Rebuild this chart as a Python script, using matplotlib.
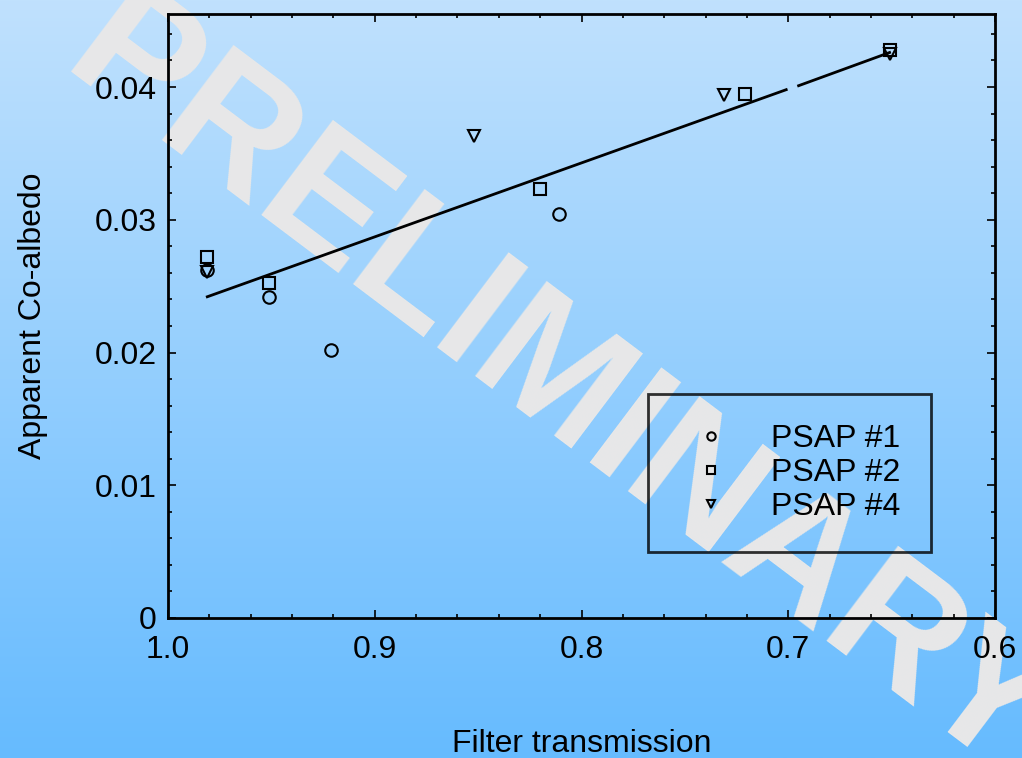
import numpy as np
import matplotlib
matplotlib.use("Agg")
import matplotlib.pyplot as plt
from matplotlib.colors import LinearSegmentedColormap
from matplotlib.ticker import MultipleLocator

plt.rcParams['font.family'] = ['Liberation Sans', 'DejaVu Sans']

# PSAP measurements: filter transmission vs apparent co-albedo
psap1_x = [0.981, 0.951, 0.921, 0.811]
psap1_y = [0.0262, 0.0242, 0.0202, 0.0304]

psap2_x = [0.981, 0.951, 0.820, 0.721, 0.651]
psap2_y = [0.0272, 0.0252, 0.0323, 0.0395, 0.0428]

psap4_x = [0.981, 0.852, 0.731, 0.651]
psap4_y = [0.0261, 0.0363, 0.0394, 0.0425]

# linear fit line (drawn in two pieces, with a small break near 0.70)
fit_x = [0.981, 0.701, 0.695, 0.651]
fit_y = [0.0242, 0.0398, 0.0401, 0.0426]

fig = plt.figure(figsize=(10.22, 7.58), dpi=100)

# background gradient
bg = fig.add_axes([0, 0, 1, 1], zorder=-10)
cmap = LinearSegmentedColormap.from_list("bg", ["#c0e1fd", "#66bbff"])
grad = np.linspace(0, 1, 256).reshape(-1, 1)
bg.imshow(grad, aspect="auto", cmap=cmap, extent=[0, 1, 0, 1], origin="upper")
bg.set_axis_off()

# watermark
fig.text(0.545, 0.485, "PRELIMINARY", fontsize=124, fontweight="bold",
         color="#e8e8e8", rotation=-37, ha="center", va="center",
         zorder=-5)

ax = fig.add_axes([0.1644, 0.1847, 0.8092, 0.7968])
ax.patch.set_alpha(0)

ax.plot(fit_x[:2], fit_y[:2], color="black", lw=2.0, zorder=3)
ax.plot(fit_x[2:], fit_y[2:], color="black", lw=2.0, zorder=3)

ms = 9
ax.plot(psap1_x, psap1_y, "o", mfc="none", mec="black", mew=1.5, ms=ms,
        label="PSAP #1", zorder=4)
ax.plot(psap2_x, psap2_y, "s", mfc="none", mec="black", mew=1.5, ms=ms - 0.5,
        label="PSAP #2", zorder=4)
ax.plot(psap4_x, psap4_y, "v", mfc="none", mec="black", mew=1.5, ms=ms,
        label="PSAP #4", zorder=4)

ax.set_xlim(1.0, 0.6)
ax.set_ylim(0, 0.0455)

ax.xaxis.set_minor_locator(MultipleLocator(0.02))
ax.yaxis.set_minor_locator(MultipleLocator(0.002))
ax.set_xticks([1.0, 0.9, 0.8, 0.7, 0.6])
ax.set_xticklabels(["1.0", "0.9", "0.8", "0.7", "0.6"])
ax.set_yticks([0, 0.01, 0.02, 0.03, 0.04])
ax.set_yticklabels(["0", "0.01", "0.02", "0.03", "0.04"])

ax.tick_params(which="both", direction="in", top=True, right=True,
               labelsize=23, width=1.2)
ax.tick_params(which="major", length=6)
ax.tick_params(axis="x", which="major", pad=12)
ax.tick_params(axis="y", which="major", pad=8)
ax.tick_params(which="minor", length=3)
for s in ax.spines.values():
    s.set_linewidth(2)

ax.set_xlabel("Filter transmission", fontsize=23, labelpad=46)
ax.set_ylabel("Apparent Co-albedo", fontsize=23, labelpad=34)

leg = ax.legend(loc="lower right", bbox_to_anchor=(0.9226, 0.109),
                fontsize=23, frameon=True, fancybox=False, edgecolor="black",
                facecolor="none", handletextpad=0.9, borderpad=0.95,
                labelspacing=0.12, handlelength=2.0, borderaxespad=0)
leg.get_frame().set_linewidth(2)
for h in leg.legend_handles:
    h.set_markersize(6)

fig.savefig("out.png", dpi=100)
